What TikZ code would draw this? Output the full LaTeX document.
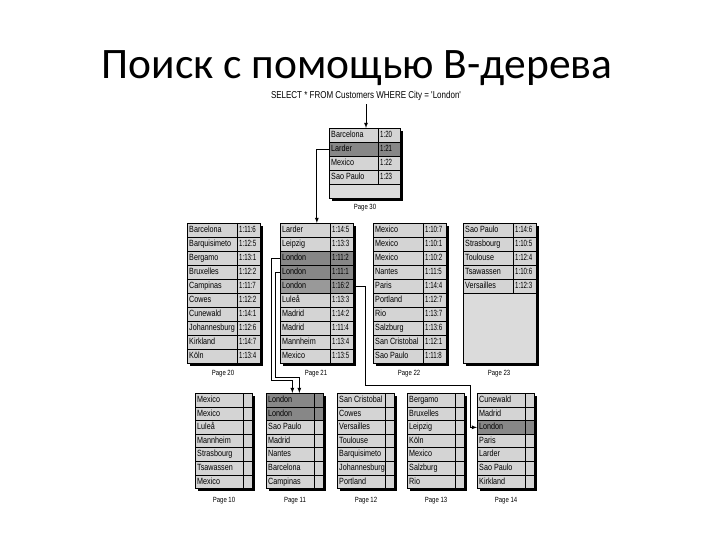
\documentclass[tikz,border=0pt]{standalone}
\usepackage{fontspec}
\setmainfont{Liberation Sans}
\newfontfamily\titlefont{Carlito}
\newfontfamily\narrowfont[FakeStretch=0.8]{Liberation Sans}
\newfontfamily\ptrfont[FakeStretch=0.68]{Liberation Sans}
\usepackage{tikz}
\colorlet{rowfill}{black!17}
\colorlet{rowdark}{black!47}
\colorlet{rowmid}{black!40}
\colorlet{emptyfill}{black!14}
\def\rowh{14}
\tikzset{
  pagerow/.style={draw, line width=0.7pt, anchor=north west, inner sep=0pt, minimum height=\rowh},
  celltext/.style={anchor=west, inner xsep=2pt, inner ysep=0pt, text height=6.3pt, text depth=1.7pt, font=\narrowfont\fontsize{9}{10}\selectfont},
  ptrtext/.style={celltext, font=\ptrfont\fontsize{9}{10}\selectfont},
  pagelabel/.style={font=\narrowfont\fontsize{7.5}{8}\selectfont},
  link/.style={line width=0.8pt, -latex}
}
% #1 name, #2 left, #3 top, #4 key column, #5 pointer column, #6 rows in all, #7 entries
\newcommand{\bpage}[7]{%
  \fill ({#2+3},{#3+3}) rectangle ++({#4+#5},{#6*\rowh});
  \fill[emptyfill] (#2,#3) rectangle ++({#4+#5},{#6*\rowh});
  \foreach \nm/\ptr/\tone [count=\i] in {#7} {
    \node[pagerow, fill=\tone, minimum width={#4+#5}] (#1-\i) at (#2,{#3+(\i-1)*\rowh}) {};
    \draw[line width=0.7pt] ([xshift=#4]#1-\i.north west) -- ([xshift=#4]#1-\i.south west);
    \node[celltext] (#1-k\i) at (#1-\i.west) {\nm};
    \node[ptrtext] (#1-p\i) at ([xshift=#4]#1-\i.west) {\ptr};
  }
  \draw[line width=0.7pt] (#2,#3) rectangle ++({#4+#5},{#6*\rowh});
}

\begin{document}
\begin{tikzpicture}[x=1pt,y=-1pt]
\useasboundingbox (0,0) rectangle (720,540);
\node[font=\titlefont\fontsize{43.5}{47}\selectfont, anchor=base] (title) at (357,79) {Поиск с помощью B-дерева};
\node[font=\narrowfont\fontsize{10}{11}\selectfont] (query) at (366,96) {SELECT * FROM Customers WHERE City = 'London'};

% root
\bpage{p30}{329}{128}{49}{22}{5}{Barcelona/1:20/rowfill, Larder/1:21/rowdark, Mexico/1:22/rowfill, Sao Paulo/1:23/rowfill}
\node[pagelabel] (l30) at (365,208) {Page 30};

% intermediate level
\bpage{p20}{187}{223}{50}{23}{10}{Barcelona/1:11:6/rowfill, Barquisimeto/1:12:5/rowfill, Bergamo/1:13:1/rowfill, Bruxelles/1:12:2/rowfill, Campinas/1:11:7/rowfill, Cowes/1:12:2/rowfill, Cunewald/1:14:1/rowfill, Johannesburg/1:12:6/rowfill, Kirkland/1:14:7/rowfill, Köln/1:13:4/rowfill}
\bpage{p21}{280}{223}{50}{23}{10}{Larder/1:14:5/rowfill, Leipzig/1:13:3/rowfill, London/1:11:2/rowdark, London/1:11:1/rowdark, London/1:16:2/rowmid, Luleå/1:13:3/rowfill, Madrid/1:14:2/rowfill, Madrid/1:11:4/rowfill, Mannheim/1:13:4/rowfill, Mexico/1:13:5/rowfill}
\bpage{p22}{373}{223}{50}{23}{10}{Mexico/1:10:7/rowfill, Mexico/1:10:1/rowfill, Mexico/1:10:2/rowfill, Nantes/1:11:5/rowfill, Paris/1:14:4/rowfill, Portland/1:12:7/rowfill, Rio/1:13:7/rowfill, Salzburg/1:13:6/rowfill, San Cristobal/1:12:1/rowfill, Sao Paulo/1:11:8/rowfill}
\bpage{p23}{463}{223}{50}{23}{10}{Sao Paulo/1:14:6/rowfill, Strasbourg/1:10:5/rowfill, Toulouse/1:12:4/rowfill, Tsawassen/1:10:6/rowfill, Versailles/1:12:3/rowfill}
\node[pagelabel] (l20) at (223,374) {Page 20};
\node[pagelabel] (l21) at (316,374) {Page 21};
\node[pagelabel] (l22) at (409,374) {Page 22};
\node[pagelabel] (l23) at (499,374) {Page 23};

% leaf level
\def\rowh{13.6}
\bpage{p10}{195}{393}{48}{9}{7}{Mexico//rowfill, Mexico//rowfill, Luleå//rowfill, Mannheim//rowfill, Strasbourg//rowfill, Tsawassen//rowfill, Mexico//rowfill}
\bpage{p11}{266}{393}{48}{9}{7}{London//rowdark, London//rowdark, Sao Paulo//rowfill, Madrid//rowfill, Nantes//rowfill, Barcelona//rowfill, Campinas//rowfill}
\bpage{p12}{337}{393}{48}{9}{7}{San Cristobal//rowfill, Cowes//rowfill, Versailles//rowfill, Toulouse//rowfill, Barquisimeto//rowfill, Johannesburg//rowfill, Portland//rowfill}
\bpage{p13}{407}{393}{48}{9}{7}{Bergamo//rowfill, Bruxelles//rowfill, Leipzig//rowfill, Köln//rowfill, Mexico//rowfill, Salzburg//rowfill, Rio//rowfill}
\bpage{p14}{477}{393}{48}{9}{7}{Cunewald//rowfill, Madrid//rowfill, London//rowdark, Paris//rowfill, Larder//rowfill, Sao Paulo//rowfill, Kirkland//rowfill}
\foreach \n/\x in {10/224,11/295,12/366,13/436,14/506}
  \node[pagelabel] (l\n) at (\x,501) {Page \n};

% search path
\draw[link] (query) -- (query |- p30-1.north);
\draw[link] (p30-2.west) -| (p21-1.north);
\draw[link] (p21-3.west) -| (271,380) -| ([xshift=-2.5pt]p11-1.north);
\draw[link] (p21-4.west) -| (275,377) -| ([xshift=4.5pt]p11-1.north);
\draw[link] (p21-5.east) -| (365,385) -| ([xshift=-7pt]p14-3.west) -- (p14-3.west);
\end{tikzpicture}
\end{document}
